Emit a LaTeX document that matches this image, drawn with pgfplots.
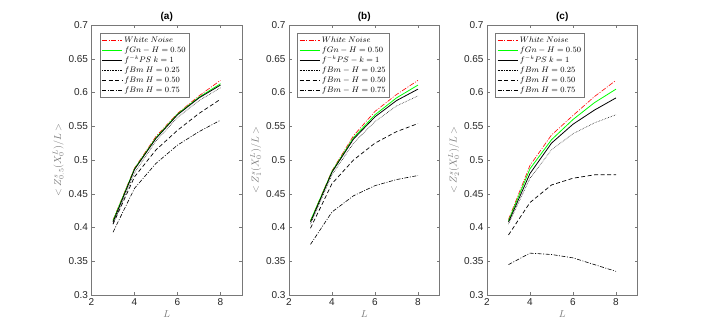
\documentclass[border=0pt]{standalone}
\usepackage{fontspec}
\setmainfont{Liberation Sans}
\usepackage{pgfplots}
\pgfplotsset{compat=1.18}

\definecolor{axgray}{RGB}{120,120,120}
\definecolor{txtgray}{RGB}{38,38,38}

\pgfplotsset{
  panel/.style={
    scale only axis,
    width=150.5pt, height=270pt,
    xmin=2, xmax=9, ymin=0.3, ymax=0.7,
    xtick={2,4,6,8},
    ytick={0.3,0.35,...,0.7},
    /pgf/number format/assume math mode=true,
    ticklabel style={font=\fontsize{10}{11}\selectfont, text=txtgray},
    tick align=inside,
    major tick length=3pt,
    axis line style={axgray},
    every tick/.style={axgray},
    xlabel={$L$},
    label style={text=axgray, font=\fontsize{10}{11}\selectfont},
    xlabel style={yshift=2pt},
    ylabel style={yshift=-2pt},
    title style={font=\bfseries\fontsize{10}{11}\selectfont, text=black, yshift=-6pt},
    legend cell align=left,
    legend style={at={(0.056,0.97)}, anchor=north west, draw=axgray,
      font=\fontsize{7.8}{8.5}\selectfont, row sep=-1.2pt, inner sep=1.5pt},
    legend image code/.code={\draw[##1] (0pt,0pt) -- (20pt,0pt);},
  },
  wn/.style={red, line width=0.6pt, dash pattern=on 5pt off 1.5pt on 1pt off 1.5pt},
  gn/.style={green, line width=0.8pt},
  fk/.style={black, line width=0.8pt},
  bq/.style={black, line width=0.5pt, dash pattern=on 0.6pt off 1pt},
  bh/.style={black, line width=0.7pt, dash pattern=on 4pt off 2.5pt},
  bt/.style={black, line width=0.6pt, dash pattern=on 4pt off 1.5pt on 1pt off 1.5pt},
}

\begin{document}
\begin{tikzpicture}
\path[use as bounding box] (0pt,0pt) rectangle (705pt,332pt);

% (a)
\begin{axis}[panel, at={(91.5pt,37pt)}, anchor=south west, title={(a)},
  ylabel={$<Z^{s}_{0.5}(X_0^L)/L>$}]
\addplot[wn] coordinates {(3,0.411) (4,0.488) (5,0.535) (6,0.569) (7,0.595) (8,0.618)};
\addlegendentry{$White\ Noise$}
\addplot[gn] coordinates {(3,0.410) (4,0.487) (5,0.533) (6,0.568) (7,0.593) (8,0.613)};
\addlegendentry{$fGn-H=0.50$}
\addplot[fk] coordinates {(3,0.408) (4,0.486) (5,0.532) (6,0.567) (7,0.592) (8,0.611)};
\addlegendentry{$f^{-k}PS\ k=1$}
\addplot[bq] coordinates {(3,0.405) (4,0.481) (5,0.528) (6,0.563) (7,0.588) (8,0.607)};
\addlegendentry{$fBm\ H=0.25$}
\addplot[bh] coordinates {(3,0.405) (4,0.475) (5,0.515) (6,0.544) (7,0.569) (8,0.590)};
\addlegendentry{$fBm\ H=0.50$}
\addplot[bt] coordinates {(3,0.393) (4,0.458) (5,0.495) (6,0.522) (7,0.542) (8,0.559)};
\addlegendentry{$fBm\ H=0.75$}
\end{axis}

% (b)
\begin{axis}[panel, at={(289pt,37pt)}, anchor=south west, title={(b)},
  ylabel={$<Z^{s}_{1}(X_0^L)/L>$}]
\addplot[wn] coordinates {(3,0.410) (4,0.484) (5,0.536) (6,0.572) (7,0.597) (8,0.618)};
\addlegendentry{$White\ Noise$}
\addplot[gn] coordinates {(3,0.410) (4,0.483) (5,0.533) (6,0.567) (7,0.592) (8,0.611)};
\addlegendentry{$fGn-H=0.50$}
\addplot[fk] coordinates {(3,0.408) (4,0.482) (5,0.531) (6,0.564) (7,0.588) (8,0.605)};
\addlegendentry{$f^{-k}PS-k=1$}
\addplot[bq] coordinates {(3,0.405) (4,0.478) (5,0.525) (6,0.557) (7,0.580) (8,0.595)};
\addlegendentry{$fBm-H=0.25$}
\addplot[bh] coordinates {(3,0.399) (4,0.465) (5,0.500) (6,0.525) (7,0.542) (8,0.554)};
\addlegendentry{$fBm-H=0.50$}
\addplot[bt] coordinates {(3,0.375) (4,0.423) (5,0.447) (6,0.462) (7,0.471) (8,0.477)};
\addlegendentry{$fBm-H=0.75$}
\end{axis}

% (c)
\begin{axis}[panel, at={(487pt,37pt)}, anchor=south west, title={(c)},
  ylabel={$<Z^{s}_{2}(X_0^L)/L>$}]
\addplot[wn] coordinates {(3,0.412) (4,0.492) (5,0.537) (6,0.566) (7,0.594) (8,0.618)};
\addlegendentry{$White\ Noise$}
\addplot[gn] coordinates {(3,0.410) (4,0.487) (5,0.530) (6,0.560) (7,0.585) (8,0.605)};
\addlegendentry{$fGn-H=0.50$}
\addplot[fk] coordinates {(3,0.408) (4,0.480) (5,0.525) (6,0.553) (7,0.574) (8,0.592)};
\addlegendentry{$f^{-k}PS\ k=1$}
\addplot[bq] coordinates {(3,0.405) (4,0.473) (5,0.515) (6,0.539) (7,0.555) (8,0.567)};
\addlegendentry{$fBm\ H=0.25$}
\addplot[bh] coordinates {(3,0.389) (4,0.437) (5,0.463) (6,0.473) (7,0.478) (8,0.478)};
\addlegendentry{$fBm\ H=0.50$}
\addplot[bt] coordinates {(3,0.345) (4,0.362) (5,0.360) (6,0.355) (7,0.345) (8,0.335)};
\addlegendentry{$fBm\ H=0.75$}
\end{axis}
\end{tikzpicture}
\end{document}
